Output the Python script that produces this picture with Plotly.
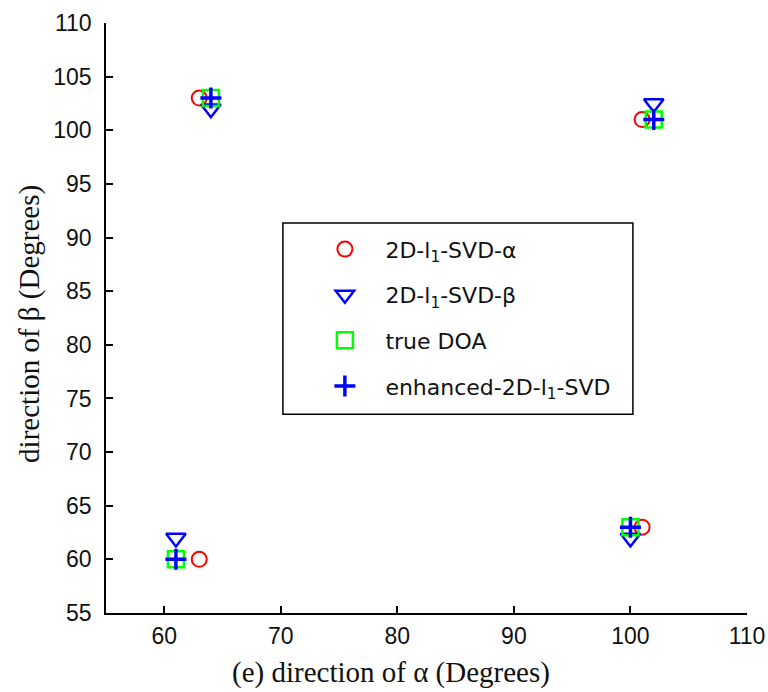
import plotly.graph_objects as go

# Data (degrees)
alpha_x = [63, 101, 63, 101]
alpha_y = [103, 101, 60, 63]
beta_x = [64, 102, 61, 100]
beta_y = [102, 102.5, 62, 62]
true_x = [64, 102, 61, 100]
true_y = [103, 101, 60, 63]
enh_x = [64, 102, 61, 100]
enh_y = [103, 101, 60, 63]

names = ["2D-l<sub>1</sub>-SVD-α", "2D-l<sub>1</sub>-SVD-β", "true DOA", "enhanced-2D-l<sub>1</sub>-SVD"]
x_ticks = [60, 70, 80, 90, 100, 110]
y_ticks = [55, 60, 65, 70, 75, 80, 85, 90, 95, 100, 105, 110]
x_title = "(e) direction of α (Degrees)"
y_title = "direction of β (Degrees)"

fig = go.Figure()
fig.add_trace(go.Scatter(x=alpha_x, y=alpha_y, mode="markers", name=names[0], legendgroup="a",
                         marker=dict(symbol="circle-open", size=15, color="#ff0000", line=dict(width=2, color="#ff0000"))))
fig.add_trace(go.Scatter(x=beta_x, y=beta_y, mode="markers", name=names[1], legendgroup="b",
                         marker=dict(symbol="triangle-down-open", size=17, color="#0000ff", line=dict(width=2.5, color="#0000ff"))))
fig.add_trace(go.Scatter(x=true_x, y=true_y, mode="markers", name=names[2], legendgroup="c",
                         marker=dict(symbol="square-open", size=16, color="#00ff00", line=dict(width=2.5, color="#00ff00"))))
fig.add_trace(go.Scatter(x=enh_x, y=enh_y, mode="markers", name=names[3], legendgroup="d",
                         marker=dict(symbol="cross-thin-open", size=15, color="#0000ff", line=dict(width=3.5, color="#0000ff"))))

tick_font = dict(family="Liberation Sans, Arial, sans-serif", size=23, color="#111")
axis_common = dict(showline=True, linecolor="black", linewidth=1.5, ticks="inside", ticklen=7,
                   tickcolor="black", tickwidth=1.5, showgrid=False, zeroline=False, mirror=False,
                   tickfont=tick_font, automargin=False)

title_font = dict(family="Liberation Serif, Times New Roman, serif", size=29, color="#111")

fig.update_layout(
    width=768, height=692,
    margin=dict(l=106, r=21, t=23, b=79),
    paper_bgcolor="white", plot_bgcolor="white",
    xaxis=dict(range=[55, 110], tickvals=x_ticks, ticklabelstandoff=2, **axis_common),
    yaxis=dict(range=[55, 110], tickvals=y_ticks, ticklabelstandoff=8, **axis_common),
    showlegend=True,
    legend=dict(x=0.3095, y=0.652, xanchor="left", yanchor="top",
                borderwidth=0, bgcolor="rgba(255,255,255,0)",
                font=dict(family="DejaVu Sans, Verdana, sans-serif", size=22, color="#111"),
                tracegroupgap=14, itemwidth=71),
    shapes=[dict(type="rect", xref="paper", yref="paper", x0=0.276, x1=0.822, y0=0.337, y1=0.661,
                 line=dict(color="black", width=1.5), fillcolor="white", layer="below")],
    annotations=[
        dict(text=x_title, xref="paper", yref="paper", x=0.445, y=-0.1, xanchor="center", yanchor="middle",
             showarrow=False, font=title_font),
        dict(text=y_title, xref="paper", yref="paper", x=-0.1186, y=0.49, xanchor="center", yanchor="middle",
             textangle=-90, showarrow=False, font=title_font),
    ],
)

fig.write_html("out.html")
